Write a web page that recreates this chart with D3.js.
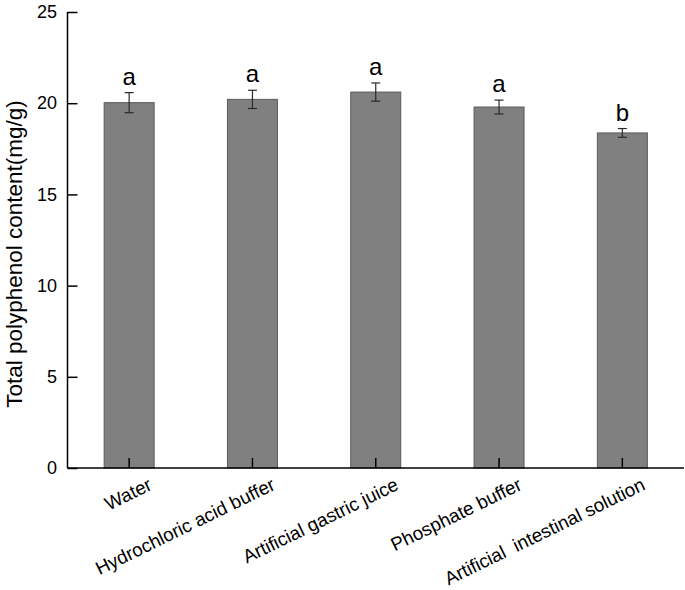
<!DOCTYPE html>
<html><head><meta charset="utf-8">
<script src="https://cdn.jsdelivr.net/npm/d3@7"></script>
<style>body{margin:0;background:#fff}svg{display:block}text{font-family:"Liberation Sans",Arial,sans-serif;white-space:pre}</style>
</head><body>
<script>
const categories = ["Water","Hydrochloric acid buffer","Artificial gastric juice","Phosphate buffer","Artificial  intestinal solution"];
const values = [20.03, 20.21, 20.61, 19.79, 18.37];
const errors = [0.55, 0.50, 0.50, 0.38, 0.24];
const letters = ["a","a","a","a","b"];
const yTicks = [0,5,10,15,20,25];

const W=685,H=590;
const svg=d3.select("body").append("svg").attr("width",W).attr("height",H);
const x0=67.5,x1=684,yTop=12,yBot=468;
const x=d3.scaleBand().domain(categories).range([x0,x1]).paddingInner(0.6).paddingOuter(0.3);
const y=d3.scaleLinear().domain([0,25]).range([yBot,yTop]);

// bars
const g=svg.append("g");
const bw=50;
g.selectAll("rect").data(values).join("rect")
 .attr("x",(d,i)=>x(categories[i])+x.bandwidth()/2-bw/2)
 .attr("y",d=>y(d)).attr("width",bw).attr("height",d=>y(0)-y(d))
 .attr("fill","#808080").attr("stroke","#5a5a5a").attr("stroke-width",1);

// error bars
const cx=i=>x(categories[i])+x.bandwidth()/2;
const eb=svg.append("g").attr("stroke","#2a2a2a").attr("stroke-width",1.2);
values.forEach((v,i)=>{
  const c=cx(i);
  eb.append("line").attr("x1",c).attr("x2",c).attr("y1",y(v+errors[i])).attr("y2",y(v-errors[i]));
  eb.append("line").attr("x1",c-4.5).attr("x2",c+4.5).attr("y1",y(v+errors[i])).attr("y2",y(v+errors[i]));
  eb.append("line").attr("x1",c-4.5).attr("x2",c+4.5).attr("y1",y(v-errors[i])).attr("y2",y(v-errors[i]));
});

// letters
svg.append("g").selectAll("text").data(letters).join("text")
 .attr("x",(d,i)=>cx(i)).attr("y",(d,i)=>y(values[i]+errors[i])-8)
 .attr("text-anchor","middle").attr("font-size",24).attr("fill","#000").text(d=>d);

// y axis
const ya=svg.append("g").attr("transform",`translate(${x0},0)`)
 .call(d3.axisLeft(y).tickValues(yTicks).tickSize(-10).tickPadding(10.5).tickSizeOuter(0));
ya.select(".domain").attr("stroke","#000").attr("stroke-width",1.5).attr("d",`M0,${yTop}V${yBot}`);
ya.selectAll(".tick line").attr("stroke","#000").attr("stroke-width",1.5);
ya.selectAll(".tick text").attr("font-size",18).attr("fill","#000").attr("font-family","Liberation Sans, Arial, sans-serif");

// x axis
const xa=svg.append("g").attr("transform",`translate(0,${yBot})`)
 .call(d3.axisBottom(x).tickSize(-10).tickSizeOuter(0));
xa.select(".domain").attr("stroke","#000").attr("stroke-width",1.5).attr("d",`M${x0},0H${x1}`);
xa.selectAll(".tick line").attr("stroke","#000").attr("stroke-width",1.5);
xa.selectAll(".tick text").attr("font-size",18.8).attr("fill","#000")
 .attr("font-family","Liberation Sans, Arial, sans-serif")
 .attr("text-anchor","end").attr("dy",0).attr("y",0)
 .attr("transform","translate(24,21) rotate(-26)");

// y title
svg.append("text").attr("transform",`translate(22,254) rotate(-90)`)
 .attr("text-anchor","middle").attr("font-size",22.5).attr("fill","#000")
 .text("Total polyphenol content(mg/g)");
</script>
</body></html>
